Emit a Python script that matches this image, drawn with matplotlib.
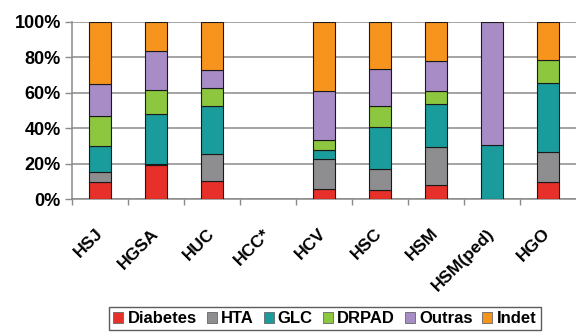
import matplotlib
matplotlib.use("Agg")
import matplotlib.pyplot as plt
import numpy as np

plt.rcParams['font.family'] = ['Liberation Sans', 'DejaVu Sans']
plt.rcParams['font.weight'] = 'bold'

# hospitals
hospitais = ['HSJ', 'HGSA', 'HUC', 'HCC*', 'HCV', 'HSC', 'HSM', 'HSM(ped)', 'HGO']

# percentages per cause
diabetes = [9.5, 19.5, 10, 0, 6, 5, 8, 0, 9.5]
hta      = [6, 0.3, 15.5, 0, 16.5, 12, 21.5, 0, 17]
glc      = [14.5, 28.5, 27, 0, 5.5, 23.5, 24, 30.5, 39]
drpad    = [17, 13.5, 10, 0, 5.5, 12, 7.5, 0, 13]
outras   = [18, 22, 10.5, 0, 27.5, 21, 17, 69.5, 0]
indet    = [35, 16.2, 27, 0, 39, 26.5, 22, 0, 21.5]

series = [('Diabetes', diabetes, '#e8302a'),
          ('HTA', hta, '#8e8e90'),
          ('GLC', glc, '#1a9b9c'),
          ('DRPAD', drpad, '#8dc63f'),
          ('Outras', outras, '#a88cc6'),
          ('Indet', indet, '#f7941d')]

fig = plt.figure(figsize=(5.76, 3.33), dpi=100)
ax = fig.add_axes([0.125, 0.402, 0.875, 0.532])

x = np.arange(len(hospitais))
bottom = np.zeros(len(hospitais))
for nome, vals, cor in series:
    vals = np.array(vals)
    barras = ax.bar(x, vals, 0.41, bottom=bottom, color=cor, edgecolor='#1a1a1a',
                    linewidth=0.8, label=nome, zorder=3)
    # empty segments should not leave an outline behind
    for p in barras.patches:
        if p.get_height() == 0:
            p.set_linewidth(0)
    bottom += vals

ax.set_xlim(-0.5, 8.5)
ax.set_ylim(0, 100)

# y axis
ax.set_yticks([0, 20, 40, 60, 80, 100])
ax.set_yticklabels(['0%', '20%', '40%', '60%', '80%', '100%'], fontsize=13, fontweight='bold')
ax.yaxis.grid(True, color='#8a8a8a', linewidth=1.1, zorder=0)
ax.tick_params(axis='y', length=5, width=1, color='#8a8a8a', pad=3)

# x axis: labels at centres, tick marks between categories
ax.set_xticks(x)
ax.set_xticklabels(hospitais, rotation=45, ha='right', va='center',
                   rotation_mode='anchor', fontsize=12.5, fontweight='bold')
ax.tick_params(axis='x', which='major', length=0, pad=23)
ax.set_xticks(np.arange(-0.5, 8.5, 1), minor=True)
ax.tick_params(axis='x', which='minor', length=4, width=1, color='#8a8a8a')

for s in ['top', 'right']:
    ax.spines[s].set_visible(False)
for s in ['left', 'bottom']:
    ax.spines[s].set_color('#8a8a8a')
    ax.spines[s].set_linewidth(1.1)

leg = fig.legend(loc='upper center', bbox_to_anchor=(0.564, 0.078), ncol=6,
                 fontsize=12, frameon=True, fancybox=False, edgecolor='#333333',
                 handlelength=0.6, handleheight=0.6, handletextpad=0.25,
                 columnspacing=0.6, borderpad=0.25, borderaxespad=0)
leg.get_frame().set_linewidth(1.0)
for t in leg.get_texts():
    t.set_fontweight('bold')
for h in leg.legend_handles:
    h.set_edgecolor('#666666')
    h.set_linewidth(0.6)

fig.savefig('out.png', dpi=100)
